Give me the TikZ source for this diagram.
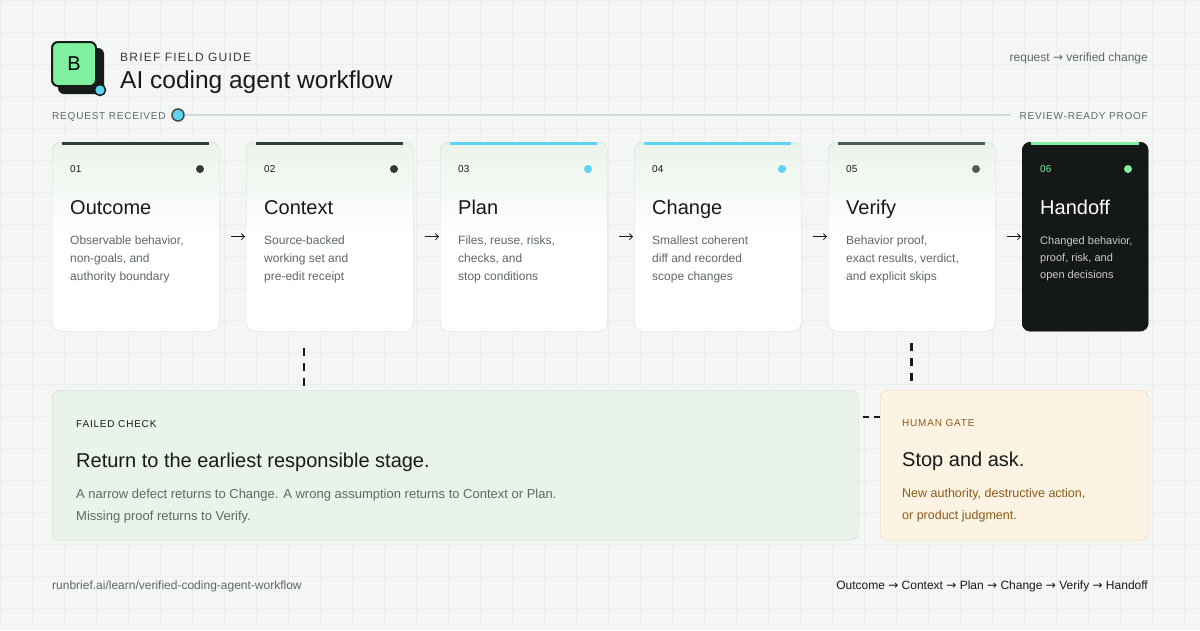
\documentclass[tikz,border=0pt]{standalone}
\usepackage{fontspec}
\setmainfont{Liberation Sans}
\newfontfamily\symfont{DejaVu Sans}
\usetikzlibrary{positioning,arrows.meta}

\definecolor{bgpaper}{HTML}{F4F6F4}
\definecolor{gridline}{HTML}{ECEFEC}
\definecolor{ink}{HTML}{161A18}
\definecolor{muted}{HTML}{5E6863}
\definecolor{cardline}{HTML}{CFDCD5}
\definecolor{darkbar}{HTML}{2F3D36}
\definecolor{cyanbar}{HTML}{5FD3F3}
\definecolor{greybar}{HTML}{4A5E55}
\definecolor{greenbar}{HTML}{7EF0A0}
\definecolor{failfill}{HTML}{EAF3EA}
\definecolor{failline}{HTML}{C7D8CB}
\definecolor{gatefill}{HTML}{FDF3E3}
\definecolor{gateline}{HTML}{EDD3A8}
\definecolor{gateink}{HTML}{8A5A1A}
\definecolor{nightcard}{HTML}{141816}

\tikzset{
  card/.style={draw=cardline,rounded corners=8pt,minimum width=167pt,
    minimum height=189pt,anchor=north west,top color=failfill,bottom color=white,
    middle color=white,inner sep=0pt},
  cardnum/.style={anchor=base west,font=\fontsize{10}{12}\selectfont,text=ink,inner sep=0pt},
  cardtitle/.style={anchor=base west,font=\fontsize{20}{24}\selectfont,text=ink,inner sep=0pt},
  carddesc/.style={anchor=north west,align=left,font=\fontsize{12}{18}\selectfont,text=muted,inner sep=0pt},
  caps/.style={inner sep=0pt,font=\addfontfeatures{LetterSpace=8}\fontsize{10}{12}\selectfont},
  handover/.style={-{Straight Barb[length=3pt]},thick,ink,shorten <=12pt,shorten >=1pt},
  backtrack/.style={ink,line width=2.5pt,dash pattern=on 8pt off 7pt},
}

\begin{document}
\begin{tikzpicture}[x=1pt,y=-1pt]
  \fill[bgpaper] (0,0) rectangle (1200,630);
  \useasboundingbox (0,0) rectangle (1200,630);
  \draw[gridline,very thin] (0,0) grid[step=32pt] (1200,630);

  % header
  \fill[ink,rounded corners=6pt] (58,48) rectangle (104,94);
  \node[draw=ink,line width=2pt,fill=greenbar,rounded corners=6pt,minimum size=44pt,
    font=\fontsize{20}{24}\selectfont] (logo) at (74,64) {B};
  \node[circle,fill=cyanbar,draw=ink,line width=1.5pt,minimum size=11pt,inner sep=0pt] (logodot) at (100,90) {};
  \node[caps,anchor=base west,text=ink!85,font=\addfontfeatures{LetterSpace=10}\fontsize{12}{14}\selectfont] (kicker) at (120,61) {BRIEF FIELD GUIDE};
  \node[anchor=base west,inner sep=0pt,font=\fontsize{24.5}{28}\selectfont,text=ink] (title) at (120,88) {AI coding agent workflow};
  \node[anchor=base east,inner sep=0pt,font=\fontsize{12}{14}\selectfont,text=muted] (route) at (1148,61) {request {\symfont→} verified change};

  % timeline
  \node[caps,anchor=base west,text=muted] (start) at (52,119) {REQUEST RECEIVED};
  \node[caps,anchor=base east,text=muted] (finish) at (1148,119) {REVIEW-READY PROOF};
  \node[circle,fill=cyanbar,draw=ink!80,line width=1.5pt,minimum size=12pt,inner sep=0pt] (now) at (178,115) {};
  \draw[cardline,line width=1.5pt] (now.east) -- ([xshift=-8pt]finish.west |- now);

  % stages
  \foreach \i/\x/\bar/\name/\lineA/\lineB/\lineC in {
      1/52/darkbar/Outcome/{Observable behavior,}/{non-goals, and}/authority boundary,
      2/246/darkbar/Context/Source-backed/working set and/pre-edit receipt,
      3/440/cyanbar/Plan/{Files, reuse, risks,}/{checks, and}/stop conditions,
      4/634/cyanbar/Change/Smallest coherent/diff and recorded/scope changes,
      5/828/greybar/Verify/{Behavior proof,}/{exact results, verdict,}/and explicit skips} {
    \node[card] (c\i) at (\x,142) {};
    \draw[\bar,line width=3pt] (\x+10,143) -- (\x+157,143);
    \fill[\bar] (\x+148,169) circle (4pt);
    \node[cardnum] (n\i) at (\x+18,172) {0\i};
    \node[cardtitle] (t\i) at (\x+18,214) {\name};
    \node[carddesc] (d\i) at (\x+18,236) {\lineA\\\lineB\\\lineC};
  }
  \node[card,minimum width=126pt,fill=nightcard,draw=nightcard,top color=nightcard,bottom color=nightcard,middle color=nightcard] (c6) at (1022,142) {};
  \draw[greenbar,line width=3pt] (1031,143) -- (1139,143);
  \fill[greenbar] (1128,169) circle (4pt);
  \node[cardnum,text=greenbar] (n6) at (1040,172) {06};
  \node[cardtitle,text=white] (t6) at (1040,214) {Handoff};
  \node[carddesc,text=white!80!black,font=\fontsize{11}{17}\selectfont] (d6) at (1040,236) {Changed behavior,\\proof, risk, and\\open decisions};

  \foreach \a/\b in {c1/c2,c2/c3,c3/c4,c4/c5,c5/c6}
    \draw[handover] (\a.east) -- (\b.west);

  % bottom boxes
  \node[draw=failline,fill=failfill,rounded corners=8pt,minimum width=806pt,minimum height=150pt,anchor=north west] (fail) at (52,390) {};
  \node[caps,anchor=base west,text=ink] (failk) at (76,427) {FAILED CHECK};
  \node[cardtitle] (failt) at (76,467) {Return to the earliest responsible stage.};
  \node[carddesc,font=\fontsize{13}{22}\selectfont] (faild) at (76,489) {A narrow defect returns to Change. A wrong assumption returns to Context or Plan.\\Missing proof returns to Verify.};

  \node[draw=gateline,fill=gatefill,rounded corners=8pt,minimum width=268pt,minimum height=150pt,anchor=north west] (gate) at (880,390) {};
  \node[caps,anchor=base west,text=gateink] (gatek) at (902,426) {HUMAN GATE};
  \node[cardtitle] (gatet) at (902,466) {Stop and ask.};
  \node[carddesc,text=gateink,font=\fontsize{12.5}{22}\selectfont] (gated) at (902,488) {New authority, destructive action,\\or product judgment.};

  \coordinate (ctxdrop) at (304,348);
  \coordinate (faildrop) at (304,390);
  \draw[backtrack] (ctxdrop) -- (faildrop);
  \draw[backtrack] ([yshift=-12pt]c5.south) -- ([yshift=7pt]gate.north -| c5.south);
  \draw[backtrack,dash pattern=on 6pt off 5pt] (gate.west |- 0,417) -- (fail.east |- 0,417);

  % footer
  \node[anchor=base west,inner sep=0pt,font=\fontsize{12}{14}\selectfont,text=muted] (url) at (52,589) {runbrief.ai/learn/verified-coding-agent-workflow};
  \node[anchor=base east,inner sep=0pt,font=\fontsize{12}{14}\selectfont,text=ink] (chain) at (1148,589)
    {Outcome {\symfont→} Context {\symfont→} Plan {\symfont→} Change {\symfont→} Verify {\symfont→} Handoff};
\end{tikzpicture}
\end{document}
